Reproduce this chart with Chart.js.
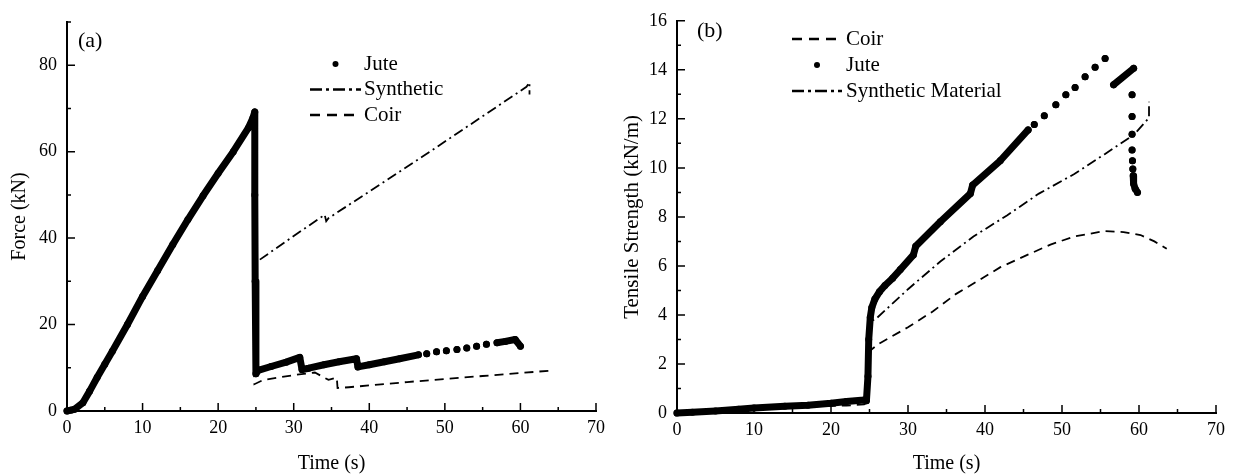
<!DOCTYPE html>
<html>
<head>
<meta charset="utf-8">
<script src="https://cdn.jsdelivr.net/npm/chart.js@4.4.1/dist/chart.umd.min.js"></script>
<style>
  html, body { margin: 0; padding: 0; background: #fff; }
  #wrap { position: relative; width: 1233px; height: 476px; overflow: hidden; }
  #forceChart { position: absolute; left: 0; top: 0; }
  #tensileChart { position: absolute; left: 616px; top: 0; }
</style>
</head>
<body>
<div id="wrap">
  <canvas id="forceChart" width="616" height="476"></canvas>
  <canvas id="tensileChart" width="617" height="476"></canvas>
</div>
<script>
// axis ticks
const timeTicks = [0, 10, 20, 30, 40, 50, 60, 70];
const timeMinor = [5, 15, 25, 35, 45, 55, 65];
const forceTicks = [0, 20, 40, 60, 80];
const forceMinor = [10, 30, 50, 70, 90];
const strengthTicks = [0, 2, 4, 6, 8, 10, 12, 14, 16];
const strengthMinor = [1, 3, 5, 7, 9, 11, 13, 15];

// (a) force, kN
const juteForceT = [0, 0.5, 1, 2.1, 3, 4, 5, 6, 8, 10, 12, 14, 16, 18, 20, 22, 24, 24.6, 24.85,
  24.85, 24.9, 25, 25.3, 27, 29, 30.8, 31.1, 32, 34, 36, 38.3, 38.5, 40, 42, 44, 46.5];
const juteForce = [0, 0.2, 0.4, 1.9, 4.6, 7.8, 10.8, 13.8, 20, 26.5, 32.5, 38.5, 44.3, 49.8, 55, 60, 65.5, 67.8, 69.2,
  50, 30, 8.6, 9.4, 10.3, 11.3, 12.4, 9.6, 9.9, 10.7, 11.4, 12.1, 10.2, 10.7, 11.4, 12.1, 13.0];
const juteForceDotT = [47.6, 48.9, 50.2, 51.6, 52.9, 54.2, 55.5];
const juteForceDot = [13.25, 13.7, 13.95, 14.25, 14.6, 15.0, 15.45];
const juteForceTailT = [56.9, 58, 59.3, 60.0];
const juteForceTail = [15.8, 16.1, 16.55, 15.0];

const synthForceT = [0, 2.1, 3, 5, 8, 12, 16, 20, 24, 24.6, 24.75, 25.5, 30, 34.1, 34.3, 34.6, 47, 60.8, 61.2, 61.2];
const synthForce = [0, 1.9, 4.6, 10.8, 20, 32.5, 44.3, 55, 65.5, 67.8, 34.5, 35, 40.5, 45.4, 43.9, 44.6, 58.8, 75, 76, 73.2];

const coirForceT = [0, 2.1, 5, 10, 16, 20, 24, 24.6, 24.8, 26, 30, 32.8, 34.6, 35.7, 35.8, 37.3, 45, 55, 63.7];
const coirForce = [0, 1.9, 10.8, 26.5, 44.3, 55, 65.5, 67.8, 6.2, 7.2, 8.3, 8.9, 7.2, 7.7, 5.3, 5.5, 6.7, 8.1, 9.3];

// (b) tensile strength, kN/m
const juteStrT = [0, 2, 5, 8, 10, 14, 17, 20, 22, 24.3, 24.6, 24.8, 24.9, 25.1, 25.3, 25.7, 26.3, 27, 28, 29, 30.7,
  31, 34.2, 38.1, 38.4, 42, 45.6];
const juteStr = [0, 0.03, 0.08, 0.15, 0.2, 0.28, 0.32, 0.4, 0.47, 0.53, 0.5, 1.5, 3, 3.9, 4.3, 4.65, 4.95, 5.2, 5.5, 5.85, 6.45,
  6.8, 7.8, 8.95, 9.3, 10.3, 11.55];
const juteStrDotT = [46.4, 47.7, 49.2, 50.5, 51.7, 53.0, 54.3, 55.6];
const juteStrDot = [11.77, 12.13, 12.58, 12.98, 13.28, 13.72, 14.1, 14.46];
const juteStrRiseT = [56.7, 59.3];
const juteStrRise = [13.39, 14.06];
const juteStrFallT = [59.1, 59.1, 59.1, 59.1, 59.15, 59.2];
const juteStrFall = [12.98, 12.1, 11.37, 10.73, 10.29, 9.95];
const juteStrTailT = [59.25, 59.3, 59.5, 59.8];
const juteStrTail = [9.68, 9.35, 9.15, 9.0];

const coirStrT = [0, 5, 10, 14, 18, 22, 24.3, 24.6, 24.9, 26.2, 30, 33.3, 36.2, 39.4, 42, 45.5, 48.5, 51.6, 55.5, 58, 60.2, 62, 63.6];
const coirStr = [0, 0.05, 0.13, 0.2, 0.28, 0.3, 0.35, 0.4, 2.5, 2.82, 3.5, 4.16, 4.85, 5.45, 5.95, 6.45, 6.87, 7.2, 7.42, 7.38, 7.26, 7.0, 6.7];

const synthStrT = [0, 5, 10, 15, 20, 24.4, 24.7, 24.8, 25.8, 30, 34.2, 38.5, 42.9, 47, 51.6, 55.5, 59.4, 61.3, 61.3];
const synthStr = [0, 0.08, 0.17, 0.25, 0.35, 0.45, 0.5, 3.7, 3.83, 5.05, 6.18, 7.2, 8.07, 8.95, 9.75, 10.55, 11.37, 12.04, 12.7];

const SERIF = "'Liberation Serif', 'Times New Roman', serif";
Chart.defaults.font.family = SERIF;
Chart.defaults.color = '#000';

const pts = (ts, vs) => ts.map((t, i) => ({ x: t, y: vs[i] }));
const dots = (ts, vs) => ts.map((t, i) => [{ x: t, y: vs[i] }]);

// join runs of readings; a null point between runs breaks the line
function runs(list) {
  const out = [];
  list.forEach((r, i) => {
    if (i) out.push({ x: r[0].x, y: null });
    out.push(...r);
  });
  return out;
}

const juteStyle = {
  showLine: true, borderColor: '#000', borderWidth: 7, borderCapStyle: 'round', borderJoinStyle: 'round',
  pointRadius: 3.5, pointBackgroundColor: '#000', pointBorderWidth: 0, spanGaps: false, clip: false
};
const dashStyle = { showLine: true, borderColor: '#000', borderWidth: 1.8, borderDash: [9, 6], pointRadius: 0, clip: false };
const dashDotStyle = { showLine: true, borderColor: '#000', borderWidth: 1.8, borderDash: [10, 4, 2, 4], pointRadius: 0, clip: false };

// tick marks pointing into the plot
function innerTicks(xMinor, yMinor) {
  return {
    id: 'innerTicks',
    afterDraw(chart) {
      const { ctx, chartArea: a, scales: { x, y } } = chart;
      ctx.save();
      ctx.strokeStyle = '#000';
      ctx.lineWidth = 1.5;
      ctx.beginPath();
      x.ticks.forEach(t => { const p = x.getPixelForValue(t.value); ctx.moveTo(p, a.bottom); ctx.lineTo(p, a.bottom - 8); });
      xMinor.forEach(v => { const p = x.getPixelForValue(v); ctx.moveTo(p, a.bottom); ctx.lineTo(p, a.bottom - 4); });
      y.ticks.forEach(t => { const p = y.getPixelForValue(t.value); ctx.moveTo(a.left, p); ctx.lineTo(a.left + 8, p); });
      yMinor.forEach(v => { const p = y.getPixelForValue(v); ctx.moveTo(a.left, p); ctx.lineTo(a.left + 4, p); });
      ctx.stroke();
      ctx.restore();
    }
  };
}

// legend block and panel letter
function seriesKey(k) {
  return {
    id: 'seriesKey',
    afterDraw(chart) {
      const ctx = chart.ctx;
      ctx.save();
      ctx.fillStyle = '#000';
      ctx.strokeStyle = '#000';
      ctx.textBaseline = 'middle';
      ctx.font = '21px ' + SERIF;
      chart.data.datasets.forEach((ds, i) => {
        const y = k.top + i * k.gap;
        if (ds.borderDash) {
          ctx.lineWidth = 2.5;
          ctx.setLineDash(ds.borderDash.length > 2 ? [12, 4, 3, 4] : [10, 7]);
          ctx.beginPath();
          ctx.moveTo(k.x0, y);
          ctx.lineTo(k.x1, y);
          ctx.stroke();
          ctx.setLineDash([]);
        } else {
          ctx.beginPath();
          ctx.arc((k.x0 + k.x1) / 2, y, 3, 0, Math.PI * 2);
          ctx.fill();
        }
        ctx.fillText(ds.label, k.textX, y);
      });
      ctx.font = '22px ' + SERIF;
      ctx.fillText(k.panel, k.panelX, k.panelY);
      ctx.restore();
    }
  };
}

function axes(yMax, yTicks, yTitle, yTitleSize, ySize, xSize, yTitlePad) {
  const common = {
    type: 'linear',
    grid: { display: false, drawTicks: false },
    border: { display: true, color: '#000', width: 2 },
  };
  return {
    x: {
      ...common, min: 0, max: 70,
      afterBuildTicks: s => { s.ticks = timeTicks.map(v => ({ value: v })); },
      afterFit: s => { s.height = xSize; },
      ticks: { padding: 6, font: { size: 18 }, color: '#000' },
      title: { display: true, text: 'Time (s)', font: { size: 20 }, color: '#000', padding: { top: 0, bottom: 0 } }
    },
    y: {
      ...common, min: 0, max: yMax,
      afterBuildTicks: s => { s.ticks = yTicks.map(v => ({ value: v })); },
      afterFit: s => { s.width = ySize; },
      ticks: { padding: 10, font: { size: 18 }, color: '#000' },
      title: { display: true, text: yTitle, font: { size: yTitleSize }, color: '#000', padding: { top: yTitlePad, bottom: 0 } }
    }
  };
}

new Chart(document.getElementById('forceChart'), {
  type: 'scatter',
  data: {
    datasets: [
      { label: 'Jute', ...juteStyle,
        data: runs([pts(juteForceT, juteForce), ...dots(juteForceDotT, juteForceDot), pts(juteForceTailT, juteForceTail)]) },
      { label: 'Synthetic', ...dashDotStyle, data: pts(synthForceT, synthForce) },
      { label: 'Coir', ...dashStyle, data: pts(coirForceT, coirForce) }
    ]
  },
  options: {
    responsive: false,
    devicePixelRatio: 1,
    animation: false,
    events: [],
    layout: { padding: { left: 0, right: 20, top: 22, bottom: 0 } },
    plugins: { legend: { display: false }, tooltip: { enabled: false } },
    scales: axes(90, forceTicks, 'Force (kN)', 20, 67, 65, 8)
  },
  plugins: [
    innerTicks(timeMinor, forceMinor),
    seriesKey({ x0: 310, x1: 361, textX: 364, top: 64, gap: 25.5, panel: '(a)', panelX: 78, panelY: 41 })
  ]
});

new Chart(document.getElementById('tensileChart'), {
  type: 'scatter',
  data: {
    datasets: [
      { label: 'Coir', ...dashStyle, data: pts(coirStrT, coirStr) },
      { label: 'Jute', ...juteStyle,
        data: runs([pts(juteStrT, juteStr), ...dots(juteStrDotT, juteStrDot), pts(juteStrRiseT, juteStrRise),
          ...dots(juteStrFallT, juteStrFall), pts(juteStrTailT, juteStrTail)]) },
      { label: 'Synthetic Material', ...dashDotStyle, data: pts(synthStrT, synthStr) }
    ]
  },
  options: {
    responsive: false,
    devicePixelRatio: 1,
    animation: false,
    events: [],
    layout: { padding: { left: 0, right: 17, top: 16, bottom: 0 } },
    plugins: { legend: { display: false }, tooltip: { enabled: false } },
    scales: axes(16, strengthTicks, 'Tensile Strength (kN/m)', 21, 61, 63, 4)
  },
  plugins: [
    innerTicks(timeMinor, strengthMinor),
    seriesKey({ x0: 176, x1: 226, textX: 230, top: 39, gap: 26, panel: '(b)', panelX: 81, panelY: 31 })
  ]
});
</script>
</body>
</html>
